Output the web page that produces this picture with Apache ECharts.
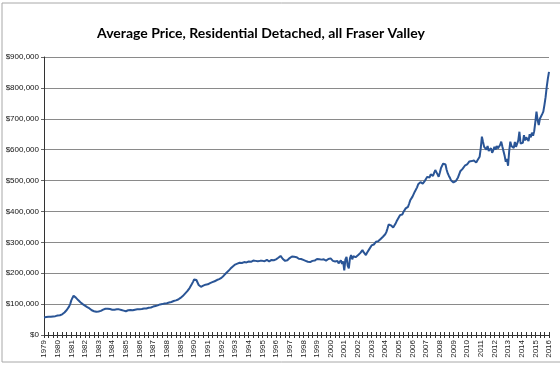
<!DOCTYPE html>
<html>
<head>
<meta charset="utf-8">
<script src="https://cdn.jsdelivr.net/npm/echarts@6/dist/echarts.min.js"></script>
<style>html,body{margin:0;padding:0;background:#fff;}#c{width:560px;height:366px;}</style>
</head>
<body>
<div id="c"></div>
<script>
// Average price (thousands of dollars), monthly, Jan 1979 .. Jan 2016
const title = 'Average Price, Residential Detached, all Fraser Valley';
const years = [1979,1980,1981,1982,1983,1984,1985,1986,1987,1988,1989,1990,1991,1992,1993,1994,1995,1996,1997,1998,1999,2000,2001,2002,2003,2004,2005,2006,2007,2008,2009,2010,2011,2012,2013,2014,2015,2016];
const yTicks = [0,100,200,300,400,500,600,700,800,900];
const price1979_1987 = [
  57,57,58,58,59,58,59,60,60,61,61,62,
  63,64,64,65,67,70,73,76,81,86,92,100,
  112,120,127,125,121,117,113,110,106,103,100,97,
  95,92,90,88,86,83,80,78,77,75,75,76,
  76,77,78,80,82,83,85,86,85,84,84,83,
  82,81,82,82,83,84,83,82,81,80,79,78,
  77,79,80,80,81,81,80,81,82,82,83,83,
  83,84,84,85,86,86,86,87,88,88,89,90,
  92,93,94,95,96,97,99,100,100,101,102,102
];
const price1988_1996 = [
  103,104,105,106,107,108,110,111,112,113,115,117,
  120,123,126,130,134,138,142,147,152,158,165,172,
  180,183,178,170,162,158,156,158,160,162,163,164,
  164,166,168,170,171,172,174,176,178,179,181,183,
  185,188,192,196,200,203,207,211,215,219,222,226,
  228,230,231,233,234,232,233,235,236,234,235,236,
  238,240,237,239,241,238,240,242,239,241,240,238,
  240,242,239,241,243,240,238,241,243,240,242,244,
  245,248,250,253,256,251,246,243,240,238,242,246
];
const price1997_2005 = [
  249,251,254,256,253,250,252,249,247,245,246,244,
  243,241,240,238,237,239,236,238,240,239,241,243,
  246,248,245,243,244,242,245,243,241,244,246,247,
  248,245,240,243,238,235,240,232,236,242,230,238,
  209,245,253,225,216,248,259,245,255,258,252,256,
  258,262,265,270,275,268,262,259,266,272,278,283,
  290,288,293,297,302,299,304,308,311,314,318,322,
  326,333,345,358,361,355,350,348,352,360,368,375,
  380,388,394,390,398,404,410,406,415,425,436,442
];
const price2006_2016 = [
  448,456,464,470,478,488,491,495,496,490,494,500,
  505,512,518,510,520,523,515,525,534,528,520,512,
  525,540,548,555,561,552,535,523,515,508,500,496,
  494,495,498,502,510,520,530,534,538,542,548,550,
  552,558,562,566,563,560,565,561,558,565,570,577,
  605,642,625,609,615,600,612,596,599,605,590,598,
  609,600,612,604,598,615,626,610,595,580,561,570,
  548,595,626,612,618,605,625,609,615,630,658,620,
  618,622,647,630,640,636,628,650,640,655,645,660,
  690,723,695,680,700,705,715,723,745,770,803,830,
  852
];

const values = [].concat(price1979_1987, price1988_1996, price1997_2005, price2006_2016);
const months = [];
for (let y = 0; y < years.length; y++) {
  for (let m = 1; m <= 12; m++) {
    if (months.length < values.length) months.push(years[y] + '-' + (m < 10 ? '0' + m : m));
  }
}

const chart = echarts.init(document.getElementById('c'), null, {renderer: 'canvas'});
const fontFam = '"Liberation Sans", Arial, sans-serif';
const xBase = {
  type: 'category',
  data: months,
  boundaryGap: false,
  axisLine: {show: true, lineStyle: {color: '#333', width: 1}},
  splitLine: {show: false}
};
chart.setOption({
  animation: false,
  backgroundColor: '#fff',
  title: {
    text: title,
    left: 97,
    top: 26,
    padding: 0,
    textStyle: {fontFamily: 'Lato, "Open Sans", sans-serif', fontWeight: 'bold', fontSize: 14, color: '#000'}
  },
  graphic: [{
    type: 'rect', shape: {x: 2, y: 3, width: 620, height: 359},
    style: {fill: 'none', stroke: '#a8a8a8', lineWidth: 1}, silent: true, z: -1
  }],
  grid: {left: 44, right: 11, top: 57, bottom: 31, containLabel: false},
  xAxis: [
    Object.assign({}, xBase, {
      axisTick: {show: true, interval: 3, length: 3, inside: false, lineStyle: {color: '#333'}},
      axisLabel: {
        show: true, rotate: 90, margin: 5,
        fontFamily: fontFam, fontSize: 8, color: '#222',
        interval: function (i) { return i % 12 === 0; },
        formatter: function (v) { return v.slice(0, 4); }
      }
    }),
    Object.assign({}, xBase, {
      position: 'bottom',
      axisTick: {show: true, interval: 3, length: 3, inside: true, lineStyle: {color: '#333'}},
      axisLabel: {show: false}
    })
  ],
  yAxis: {
    type: 'value',
    min: yTicks[0], max: yTicks[yTicks.length - 1], interval: 100,
    axisLine: {show: true, lineStyle: {color: '#333'}},
    axisTick: {show: true, length: 3, lineStyle: {color: '#666'}},
    splitLine: {show: true, lineStyle: {color: '#8a8a8a', width: 1}},
    axisLabel: {
      fontFamily: fontFam, fontSize: 8, color: '#111', margin: 5,
      formatter: function (v) { return '$' + (v * 1000).toLocaleString('en-US'); }
    }
  },
  series: [{
    type: 'line',
    data: values,
    showSymbol: false,
    symbol: 'none',
    lineStyle: {color: '#2a5596', width: 2},
    xAxisIndex: 0
  }]
});
</script>
</body>
</html>
